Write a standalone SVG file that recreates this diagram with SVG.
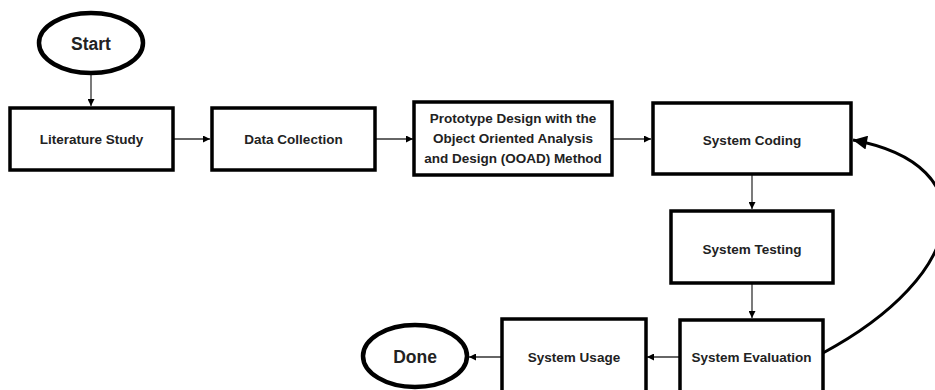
<svg xmlns="http://www.w3.org/2000/svg" width="935" height="390" viewBox="0 0 935 390">
<defs>
<style>
.box{fill:#fff;stroke:#000;stroke-width:3.5}
.term{fill:#fff;stroke:#000;stroke-width:4.5}
.lbl{font-family:"Liberation Sans",Arial,sans-serif;font-weight:bold;font-size:13.5px;fill:#222;text-anchor:middle;dominant-baseline:central}
.big{font-size:17.5px}
.con{fill:none;stroke:#333;stroke-width:1.3}
.loop{fill:none;stroke:#000;stroke-width:3}
</style>
<marker id="ah" viewBox="0 0 10 10" refX="10" refY="5" markerWidth="7" markerHeight="7" markerUnits="userSpaceOnUse" orient="auto"><path d="M0,0 L10,5 L0,10 z" fill="#000"/></marker>
<marker id="ahb" viewBox="0 0 10 10" refX="10" refY="5" markerWidth="18" markerHeight="14" markerUnits="userSpaceOnUse" orient="auto"><path d="M0,0 L10,5 L0,10 z" fill="#000"/></marker>
</defs>
<rect width="935" height="390" fill="#fff"/>
<g id="connectors">
<line class="con" x1="91" y1="74" x2="91" y2="106" marker-end="url(#ah)"/>
<line class="con" x1="173" y1="139" x2="210" y2="139" marker-end="url(#ah)"/>
<line class="con" x1="375" y1="139" x2="413" y2="139" marker-end="url(#ah)"/>
<line class="con" x1="612" y1="139" x2="651" y2="139" marker-end="url(#ah)"/>
<line class="con" x1="752" y1="174" x2="752" y2="209" marker-end="url(#ah)"/>
<line class="con" x1="752" y1="283" x2="752" y2="318" marker-end="url(#ah)"/>
<line class="con" x1="680" y1="357" x2="647" y2="357" marker-end="url(#ah)"/>
<line class="con" x1="502" y1="357" x2="469" y2="357" marker-end="url(#ah)"/>
<path class="loop" d="M823,353 C968,275 988,165 853,140" marker-end="url(#ahb)"/>
</g>
<g id="start"><ellipse class="term" cx="91" cy="43" rx="52" ry="30"/><text class="lbl big" x="91" y="44">Start</text></g>
<g id="literature"><rect class="box" x="10" y="108" width="163" height="62"/><text class="lbl" x="91.5" y="139">Literature Study</text></g>
<g id="data"><rect class="box" x="212" y="108" width="163" height="62"/><text class="lbl" x="293.5" y="139">Data Collection</text></g>
<g id="prototype"><rect class="box" x="414" y="102" width="198" height="73"/>
<text class="lbl" x="513" y="118">Prototype Design with the</text>
<text class="lbl" x="513" y="138">Object Oriented Analysis</text>
<text class="lbl" x="513" y="158">and Design (OOAD) Method</text></g>
<g id="coding"><rect class="box" x="653" y="103" width="198" height="71"/><text class="lbl" x="752" y="140">System Coding</text></g>
<g id="testing"><rect class="box" x="671" y="211" width="162" height="72"/><text class="lbl" x="752" y="249">System Testing</text></g>
<g id="evaluation"><rect class="box" x="680" y="320" width="143" height="80"/><text class="lbl" x="751.5" y="357">System Evaluation</text></g>
<g id="usage"><rect class="box" x="502" y="319" width="144" height="81"/><text class="lbl" x="574" y="357">System Usage</text></g>
<g id="done"><ellipse class="term" cx="415" cy="356" rx="52" ry="31"/><text class="lbl big" x="415" y="357">Done</text></g>
</svg>
